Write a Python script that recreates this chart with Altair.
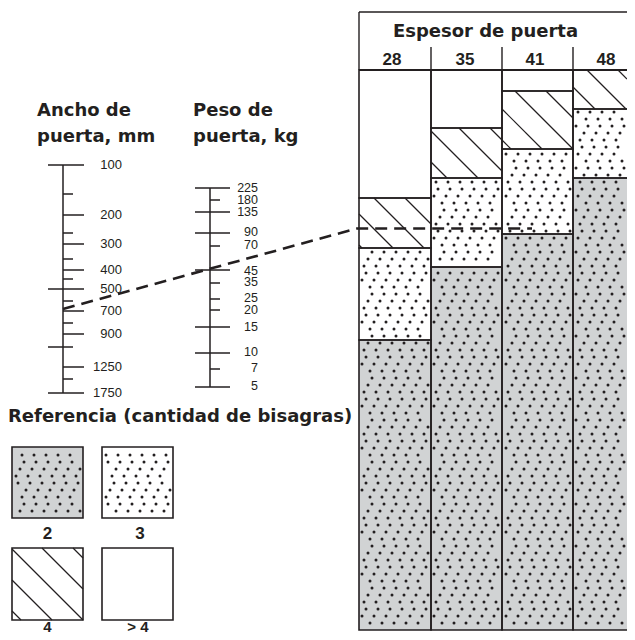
import math
import altair as alt
import numpy as np
import pandas as pd

# ---------------- values ----------------
width_labels = ["100", "", "200", "", "300", "", "400", "", "500", "", "700", "", "900", "", "1250", "", "1750"]
width_pos = [165, 194, 215, 233, 244, 259, 270, 279, 289, 301, 311, 323, 334, 347, 367, 379, 393]
width_kind = ["long", "short", "mid", "short", "mid", "short", "mid", "short", "long",
              "short", "mid", "short", "mid", "long2", "mid", "short", "long"]

weight_labels = ["225", "180", "135", "90", "70", "45", "35", "25", "20", "15", "10", "7", "5"]
weight_pos = [188, 200, 212, 233, 246, 270, 283, 299, 310, 327, 353, 369, 387]
weight_label_pos = [187.5, 199.5, 211.5, 232, 245, 271, 282, 297.5, 309.5, 327, 352, 368, 386]
weight_kind = ["long", "short", "long", "long", "short", "long", "short", "short",
               "short", "long", "long", "short", "long"]

thickness = ["28", "35", "41", "48"]
hinge_classes = [">4", "4", "3", "2"]          # top to bottom in each column
legend_labels = ["2", "3", "4", "> 4"]
legend_classes = ["2", "3", "4", ">4"]
# boundaries on the pivot scale: top, >4|4, 4|3, 3|2, bottom
bounds_28 = [70, 198, 248, 340, 630]
bounds_35 = [70, 128, 178, 267, 630]
bounds_41 = [70, 91, 149, 234, 630]
bounds_48 = [70, 70, 109, 178, 630]
column_bounds = [bounds_28, bounds_35, bounds_41, bounds_48]

example_x = [63, 357, 532]
example_y = [309, 228.5, 228.5]

# ---------------- layout / style ----------------
W, H = 619, 624          # page is 635x640 with an 8px margin
INK = "#231f20"
GRAY = "#d1d3d4"
col_edges = [359, 431, 502, 573, 644]
AXW, AXK = 63, 210
legend_boxes = [(12, 83, 447, 518), (102, 173, 447, 518), (12, 83, 548, 620), (102, 173, 548, 620)]

xs = alt.Scale(domain=[8, 8 + W], nice=False, zero=False)
ys = alt.Scale(domain=[8 + H, 8], nice=False, zero=False)


def X(f):
    return alt.X(f, type="quantitative", scale=xs, axis=None)


def Y(f):
    return alt.Y(f, type="quantitative", scale=ys, axis=None)


# ---------------- regions ----------------
regions = []
for ci, b in enumerate(column_bounds):
    for k, cls in enumerate(hinge_classes):
        if b[k + 1] > b[k]:
            regions.append(dict(x0=col_edges[ci], x1=col_edges[ci + 1], y0=b[k], y1=b[k + 1], cls=cls))
for (x0, x1, y0, y1), cls in zip(legend_boxes, legend_classes):
    regions.append(dict(x0=x0, x1=x1, y0=y0, y1=y1, cls=cls))
reg = pd.DataFrame(regions)

# dot texture
dots = []
DX, DY = 12.0, 7.0
for r in regions:
    if r["cls"] not in ("2", "3"):
        continue
    row0 = math.ceil((r["y0"] + 3) / DY)
    row1 = math.floor((r["y1"] - 3) / DY)
    for j in range(row0, row1 + 1):
        yy = j * DY
        off = (j % 2) * DX / 2 + (j % 3) * 2.0
        k0 = math.ceil((r["x0"] + 3 - off) / DX)
        k1 = math.floor((min(r["x1"], 8 + W) - 3 - off) / DX)
        for k in range(k0, k1 + 1):
            dots.append(dict(x=k * DX + off, y=yy))
dots = pd.DataFrame(dots)

# hatch texture (lines y = x + c)
hatch = []
STEP, PHASE = 31, 10
for r in regions:
    if r["cls"] != "4":
        continue
    x1c = min(r["x1"], 8 + W)
    cmin, cmax = r["y0"] - x1c, r["y1"] - r["x0"]
    k0 = math.ceil((cmin - PHASE) / STEP)
    k1 = math.floor((cmax - PHASE) / STEP)
    for k in range(k0, k1 + 1):
        c = PHASE + STEP * k
        xa = max(r["x0"], r["y0"] - c)
        xb = min(x1c, r["y1"] - c)
        if xb - xa > 1.5:
            hatch.append(dict(x=xa, y=xa + c, x2=xb, y2=xb + c))
hatch = pd.DataFrame(hatch)

fill_scale = alt.Scale(domain=["2", "3", "4", ">4"], range=[GRAY, "white", "white", "white"])

rect_fill = alt.Chart(reg).mark_rect(strokeWidth=0, clip=True).encode(
    x=X("x0"), x2="x1", y=Y("y0"), y2="y1",
    fill=alt.Fill("cls:N", scale=fill_scale, legend=None))

dot_layer = alt.Chart(dots).mark_circle(size=9, color=INK, opacity=1).encode(x=X("x"), y=Y("y"))
hatch_layer = alt.Chart(hatch).mark_rule(color=INK, strokeWidth=1.2).encode(
    x=X("x"), y=Y("y"), x2="x2", y2="y2")

rect_outline = alt.Chart(reg).mark_rect(filled=False, stroke=INK, strokeWidth=1.6, clip=True).encode(
    x=X("x0"), x2="x1", y=Y("y0"), y2="y1")

# header frame
hdr = pd.DataFrame([
    dict(x=359, x2=8 + W, y=12, y2=12, w=1.4),
    dict(x=359, x2=359, y=12, y2=70, w=1.4),
    dict(x=359, x2=8 + W, y=70, y2=70, w=2.2),
] + [dict(x=e, x2=e, y=47, y2=70, w=1.4) for e in col_edges[1:4]])
hdr_layer = alt.Chart(hdr).mark_rule(color=INK).encode(
    x=X("x"), x2="x2", y=Y("y"), y2="y2", strokeWidth=alt.StrokeWidth("w:Q", scale=None))

# nomogram axes
wext = {"long": (48, 84), "mid": (63, 84), "short": (63, 73), "long2": (48, 73)}
kext = {"long": (195, 230), "short": (210, 220)}
ticks = [dict(x=wext[k][0], x2=wext[k][1], y=p, y2=p) for p, k in zip(width_pos, width_kind)]
ticks += [dict(x=kext[k][0], x2=kext[k][1], y=p, y2=p) for p, k in zip(weight_pos, weight_kind)]
ticks += [dict(x=AXW, x2=AXW, y=width_pos[0], y2=width_pos[-1]),
          dict(x=AXK, x2=AXK, y=weight_pos[0], y2=weight_pos[-1])]
tick_layer = alt.Chart(pd.DataFrame(ticks)).mark_rule(color=INK, strokeWidth=1.5).encode(
    x=X("x"), x2="x2", y=Y("y"), y2="y2")

wl = pd.DataFrame(dict(t=width_labels, y=width_pos, x=[122] * len(width_pos)))
wl = wl[wl.t != ""]
wl_layer = alt.Chart(wl).mark_text(align="right", baseline="middle", font="Liberation Sans",
                                   fontSize=13, color=INK).encode(x=X("x"), y=Y("y"), text="t:N")
kl = pd.DataFrame(dict(t=weight_labels, y=weight_label_pos, x=[258] * len(weight_pos)))
kl_layer = alt.Chart(kl).mark_text(align="right", baseline="middle", font="Liberation Sans",
                                   fontSize=12.5, color=INK).encode(x=X("x"), y=Y("y"), text="t:N")

# titles
titles = pd.DataFrame([
    dict(t="Ancho de", x=37, y=116), dict(t="puerta, mm", x=37, y=142),
    dict(t="Peso de", x=193, y=116), dict(t="puerta, kg", x=193, y=142),
    dict(t="Referencia (cantidad de bisagras)", x=8, y=422),
])
title_layer = alt.Chart(titles).mark_text(align="left", baseline="alphabetic", font="DejaVu Sans",
                                          fontSize=18, fontWeight="bold", color=INK).encode(
    x=X("x"), y=Y("y"), text="t:N")
head_title = alt.Chart(pd.DataFrame([dict(t="Espesor de puerta", x=485.5, y=37)])).mark_text(
    align="center", baseline="alphabetic", font="DejaVu Sans", fontSize=18, fontWeight="bold",
    color=INK).encode(x=X("x"), y=Y("y"), text="t:N")

colnum = pd.DataFrame(dict(t=thickness, x=[392, 465, 535, 606], y=[64.5] * 4))
colnum_layer = alt.Chart(colnum).mark_text(align="center", baseline="alphabetic", font="Liberation Sans",
                                           fontSize=17, fontWeight="bold", color=INK).encode(
    x=X("x"), y=Y("y"), text="t:N")

leglab = pd.DataFrame(dict(t=legend_labels, x=[47.5, 140, 47.5, 138], y=[538.5, 538.5, 632, 632],
                           s=[17, 17, 15, 15]))
leglab_layer = alt.Chart(leglab).mark_text(align="center", baseline="alphabetic", font="Liberation Sans",
                                           fontWeight="bold", color=INK).encode(
    x=X("x"), y=Y("y"), text="t:N", size=alt.Size("s:Q", scale=None))

route = pd.DataFrame(dict(x=example_x, y=example_y, i=range(len(example_x))))
route_layer = alt.Chart(route).mark_line(color=INK, strokeWidth=2.6, strokeDash=[12, 7]).encode(
    x=X("x"), y=Y("y"), order="i:Q")

chart = alt.layer(
    rect_fill, dot_layer, hatch_layer, rect_outline, hdr_layer, tick_layer,
    wl_layer, kl_layer, title_layer, head_title, colnum_layer, leglab_layer, route_layer,
).properties(
    width=W, height=H, padding=0, autosize=alt.AutoSizeParams(type="none"),
    background="white",
).configure_view(stroke=None)

chart.save("out.html", embed_options={"renderer": "svg", "actions": False})
